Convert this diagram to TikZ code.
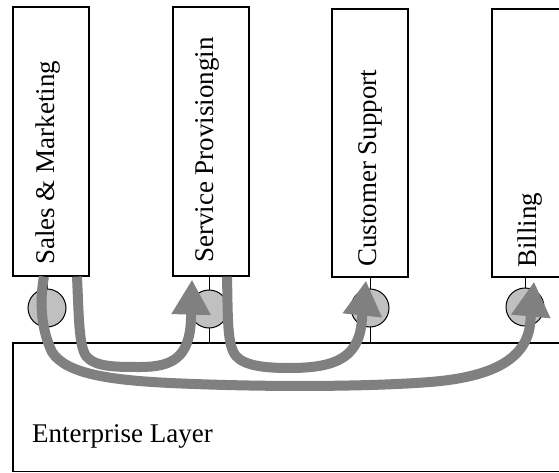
\documentclass[tikz,border=0pt]{standalone}
\usepackage{fontspec}
\setmainfont{Liberation Serif}
\usetikzlibrary{arrows.meta}
\definecolor{portgray}{RGB}{192,192,192}
\definecolor{flowgray}{RGB}{128,128,128}
\begin{document}
\begin{tikzpicture}[x=1pt,y=-1pt,
  layerbox/.style={draw, line width=1.2pt, minimum width=76pt, inner sep=0pt},
  port/.style={circle, draw, line width=1pt, fill=portgray, minimum size=38pt, inner sep=0pt},
  link/.style={draw, line width=0.8pt},
  flow/.style={draw=flowgray, line width=10pt, -{Triangle[length=35pt,width=37pt]}},
  lbl/.style={font=\fontsize{27}{27}\selectfont, inner sep=0pt, anchor=base west}]
\useasboundingbox (0,0) rectangle (559,473);
\clip (0,0) rectangle (559,473);

% functional columns
\node[layerbox, minimum height=269pt] (sales)    at (51,141.5) {};
\node[layerbox, minimum height=269pt] (service)  at (211,141.5) {};
\node[layerbox, minimum height=268pt] (customer) at (370,143) {};
\node[layerbox, minimum height=268pt] (billing)  at (530,143) {};

% enterprise layer underneath
\node[layerbox, minimum width=607pt, minimum height=128.5pt] (enterprise) at (316.5,407.25) {};

% interface ports
\coordinate (salesX) at (47,0);
\coordinate (serviceX) at (209,0);
\coordinate (customerX) at (370,0);
\coordinate (billingX) at (525,0);
\draw[link] (salesX |- sales.south) -- (salesX |- enterprise.north);
\draw[link] (serviceX |- service.south) -- (serviceX |- enterprise.north);
\draw[link] (customerX |- customer.south) -- (customerX |- enterprise.north);
\draw[link] (billingX |- billing.south) -- (billingX |- enterprise.north);
\node[port] (salesPort)    at (47,308) {};
\node[port] (servicePort)  at (209,309) {};
\node[port] (customerPort) at (370,308) {};
\node[port] (billingPort)  at (525,307) {};

% flows through the enterprise layer
\draw[flow] ([xshift=-7pt]sales.south) .. controls (38,310) and (44,335) .. (52,352)
  .. controls (66,374) and (110,380) .. (170,383)
  .. controls (280,388) and (380,386) .. (430,382)
  .. controls (480,378) and (525,365) .. (530,325)
  -- ([xshift=4pt,yshift=-4pt]billing.south);
\draw[flow] ([xshift=26pt]sales.south) .. controls (79,320) and (79,345) .. (86,356)
  .. controls (95,367) and (115,367) .. (140,367)
  .. controls (172,367) and (190,358) .. (191,318)
  -- ([xshift=-19pt,yshift=-3pt]service.south);
\draw[flow] ([xshift=16pt]service.south) .. controls (228,320) and (227,345) .. (236,356)
  .. controls (245,366) and (265,368) .. (290,368)
  .. controls (340,368) and (360,355) .. (362,318)
  -- ([xshift=-4pt,yshift=-3pt]customer.south);

% labels
\node[lbl, rotate=90] (salesText)    at (54,265)  {Sales \& Marketing};
\node[lbl, rotate=90] (serviceText)  at (213,263) {Service Provisiongin};
\node[lbl, rotate=90] (customerText) at (376,267) {Customer Support};
\node[lbl, rotate=90] (billingText)  at (536,268) {Billing};
\node[lbl] (enterpriseText) at (32,442) {Enterprise Layer};
\end{tikzpicture}
\end{document}
